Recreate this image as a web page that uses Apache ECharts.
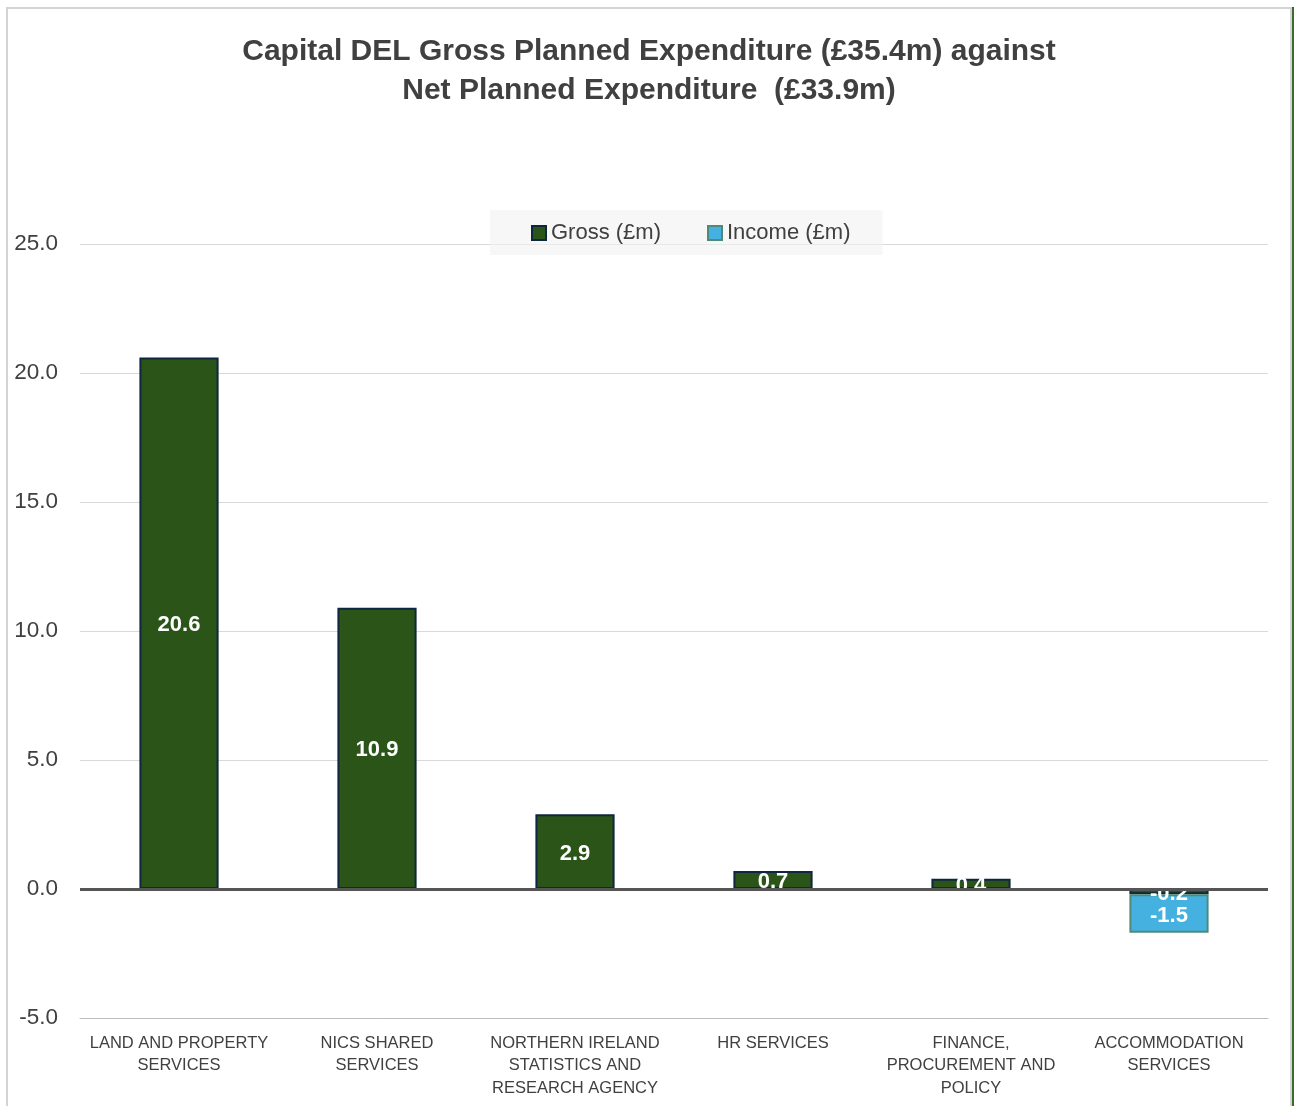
<!DOCTYPE html>
<html>
<head>
<meta charset="utf-8">
<script src="https://cdn.jsdelivr.net/npm/echarts@6/dist/echarts.min.js"></script>
<style>
  html, body { margin: 0; padding: 0; background: #ffffff; }
  #chart { position: absolute; left: 0; top: 0; width: 1298px; height: 1106px; }
  #frame {
    position: absolute; left: 6px; top: 7px; width: 1282px; height: 1120px;
    border-left: 2px solid #d4d4d4; border-top: 2px solid #d4d4d4; border-right: 2px solid #d4d4d4;
    box-shadow: 2px 0 0 #3c6b2c; pointer-events: none;
  }
</style>
</head>
<body>
<div id="chart"></div>
<div id="frame"></div>
<script>
// Business areas (x axis)
const categories = [
  'LAND AND PROPERTY\nSERVICES',
  'NICS SHARED\nSERVICES',
  'NORTHERN IRELAND\nSTATISTICS AND\nRESEARCH AGENCY',
  'HR SERVICES',
  'FINANCE,\nPROCUREMENT AND\nPOLICY',
  'ACCOMMODATION\nSERVICES'
];
// Gross capital expenditure, £m
const grossValues = [20.6, 10.9, 2.9, 0.7, 0.4, -0.2];
// Income offset, £m (only Accommodation Services has income)
const incomeValues = [null, null, null, null, null, -1.5];
// Value axis ticks
const yMin = -5;
const yMax = 25;
const yStep = 5;

const chart = echarts.init(document.getElementById('chart'));

const valueLabel = {
  show: true,
  position: 'inside',
  offset: [0, 2],
  color: '#ffffff',
  fontSize: 22,
  fontWeight: 'bold',
  fontFamily: 'Liberation Sans, Arial, sans-serif',
  formatter: p => p.value == null ? '' : Number(p.value).toFixed(1)
};

chart.setOption({
  animation: false,
  backgroundColor: '#ffffff',
  textStyle: { fontFamily: 'Liberation Sans, Arial, sans-serif' },
  title: {
    text: 'Capital DEL Gross Planned Expenditure (£35.4m) against\nNet Planned Expenditure  (£33.9m)',
    left: 'center',
    top: 27,
    textStyle: {
      fontSize: 30,
      fontWeight: 'bold',
      color: '#404040',
      lineHeight: 39,
      fontFamily: 'Liberation Sans, Arial, sans-serif'
    }
  },
  legend: {
    left: 490,
    top: 210,
    padding: [12, 32, 11, 41],
    backgroundColor: 'rgba(242,242,242,0.6)',
    itemWidth: 14,
    itemHeight: 14,
    itemGap: 46,
    icon: 'rect',
    textStyle: { fontSize: 22, color: '#404040', padding: [0, 0, 0, 0] },
    data: ['Gross (£m)', 'Income (£m)']
  },
  grid: { left: 80, right: 30, top: 244, bottom: 88 },
  xAxis: {
    type: 'category',
    data: categories,
    axisLine: { show: true, onZero: false, lineStyle: { color: '#bfbfbf', width: 1 } },
    axisTick: { show: false },
    axisLabel: {
      interval: 0,
      fontSize: 16.5,
      lineHeight: 22.5,
      color: '#404040',
      margin: 14,
      verticalAlign: 'top'
    }
  },
  yAxis: {
    type: 'value',
    min: yMin,
    max: yMax,
    interval: yStep,
    axisLine: { show: false },
    axisTick: { show: false },
    splitLine: { lineStyle: { color: '#d9d9d9', width: 1 } },
    axisLabel: {
      fontSize: 22.5,
      color: '#404040',
      margin: 22,
      padding: [3, 0, 0, 0],
      formatter: v => v.toFixed(1)
    }
  },
  series: [
    {
      name: 'Gross (£m)',
      type: 'bar',
      stack: 'total',
      barWidth: '40%',
      data: grossValues,
      itemStyle: { color: '#2a5418', borderColor: '#0f2640', borderWidth: 2 },
      label: valueLabel,
      markLine: {
        silent: true,
        symbol: 'none',
        label: { show: false },
        lineStyle: { color: '#555555', width: 3, type: 'solid' },
        data: [{ yAxis: 0 }]
      }
    },
    {
      name: 'Income (£m)',
      type: 'bar',
      stack: 'total',
      barWidth: '40%',
      data: incomeValues,
      itemStyle: { color: '#45b1e1', borderColor: '#4f8a78', borderWidth: 2 },
      label: valueLabel
    }
  ]
});
</script>
</body>
</html>
